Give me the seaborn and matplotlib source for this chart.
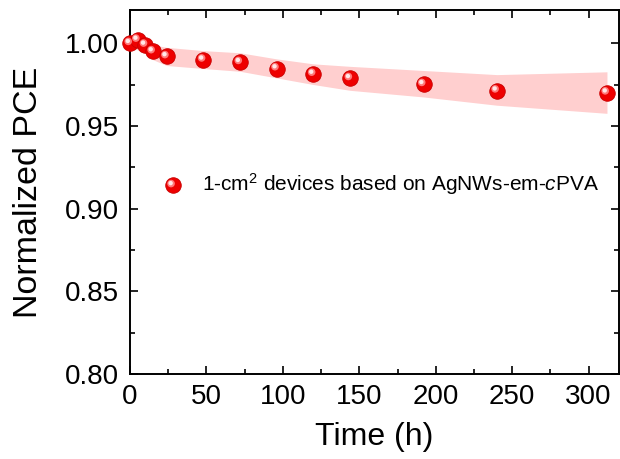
import matplotlib
matplotlib.use("Agg")
import matplotlib.pyplot as plt
import matplotlib.transforms as mtransforms
from matplotlib.ticker import MultipleLocator, FormatStrFormatter
import seaborn as sns
import pandas as pd

time_h = [0, 5, 10, 15, 24, 48, 72, 96, 120, 144, 192, 240, 312]
pce_mean = [1.000, 1.002, 0.999, 0.995, 0.992, 0.990, 0.9885, 0.9847, 0.9814, 0.9788, 0.9752, 0.9713, 0.9701]
pce_upper = [1.003, 1.004, 1.002, 0.999, 0.9975, 0.9955, 0.9942, 0.9905, 0.9875, 0.9860, 0.9835, 0.9810, 0.9827]
pce_lower = [0.997, 0.996, 0.994, 0.990, 0.9865, 0.9847, 0.9830, 0.9790, 0.9750, 0.9715, 0.9675, 0.9625, 0.9576]
label = r"1-cm$^2$ devices based on AgNWs-em-$\mathit{c}$PVA"

sns.set_style("ticks")
plt.rcParams["font.family"] = ["Liberation Sans", "DejaVu Sans"]
plt.rcParams["mathtext.fontset"] = "custom"
plt.rcParams["mathtext.rm"] = "Liberation Sans"
plt.rcParams["mathtext.it"] = "Liberation Sans:italic"
plt.rcParams["text.color"] = "black"
plt.rcParams["axes.labelcolor"] = "black"
plt.rcParams["xtick.color"] = "black"
plt.rcParams["ytick.color"] = "black"

df = pd.DataFrame({"t": time_h, "pce": pce_mean})

fig = plt.figure(figsize=(6.2, 4.59), dpi=100)
ax = fig.add_axes([0.2097, 0.185, 0.789, 0.793])

ax.fill_between(time_h, pce_lower, pce_upper, color="#ffcfcf", lw=0, zorder=1)

sns.scatterplot(data=df, x="t", y="pce", ax=ax, color="#ee0000", s=125,
                edgecolor="#c80000", linewidth=0.6, zorder=3, label=label,
                clip_on=False)
# sphere highlight
hl1 = mtransforms.offset_copy(ax.transData, fig=fig, x=-1.3, y=1.3, units="points")
ax.scatter(time_h, pce_mean, s=30, color="#ff7a7a", edgecolor="none",
           transform=hl1, zorder=4, clip_on=False)
hl2 = mtransforms.offset_copy(ax.transData, fig=fig, x=-1.6, y=1.6, units="points")
ax.scatter(time_h, pce_mean, s=10, color="#ffe8e8", edgecolor="none",
           transform=hl2, zorder=5, clip_on=False)

ax.set_xlim(0, 320)
ax.set_ylim(0.80, 1.02)
ax.xaxis.set_major_locator(MultipleLocator(50))
ax.xaxis.set_minor_locator(MultipleLocator(25))
ax.yaxis.set_major_locator(MultipleLocator(0.05))
ax.yaxis.set_minor_locator(MultipleLocator(0.025))
ax.yaxis.set_major_formatter(FormatStrFormatter("%.2f"))

ax.tick_params(which="both", direction="in", top=True, right=True, width=1.2,
               labelsize=20)
ax.tick_params(axis="y", which="major", length=6, pad=8)
ax.tick_params(axis="x", which="major", length=6, pad=7)
ax.tick_params(which="minor", length=3.5)
for sp in ax.spines.values():
    sp.set_linewidth(1.4)
    sp.set_color("black")
    sp.set_visible(True)

ax.set_xlabel("Time (h)", fontsize=23, labelpad=9)
ax.set_ylabel("Normalized PCE", fontsize=24.5, labelpad=15)

leg = ax.legend(loc="center left", bbox_to_anchor=(0.028, 0.522), frameon=False,
                fontsize=15, handletextpad=0.42, borderaxespad=0)

# highlight on the legend marker
fig.canvas.draw()
h = leg.legend_handles[0]
disp = h.get_offset_transform().transform(h.get_offsets())
axpts = ax.transAxes.inverted().transform(disp)
for s, c, d in [(30, "#ff7a7a", 1.3), (10, "#ffe8e8", 1.6)]:
    tr = mtransforms.offset_copy(ax.transAxes, fig=fig, x=-d, y=d, units="points")
    ax.scatter(axpts[:, 0], axpts[:, 1], s=s, color=c, edgecolor="none",
               transform=tr, zorder=6, clip_on=False)

fig.savefig("out.png", dpi=100)
